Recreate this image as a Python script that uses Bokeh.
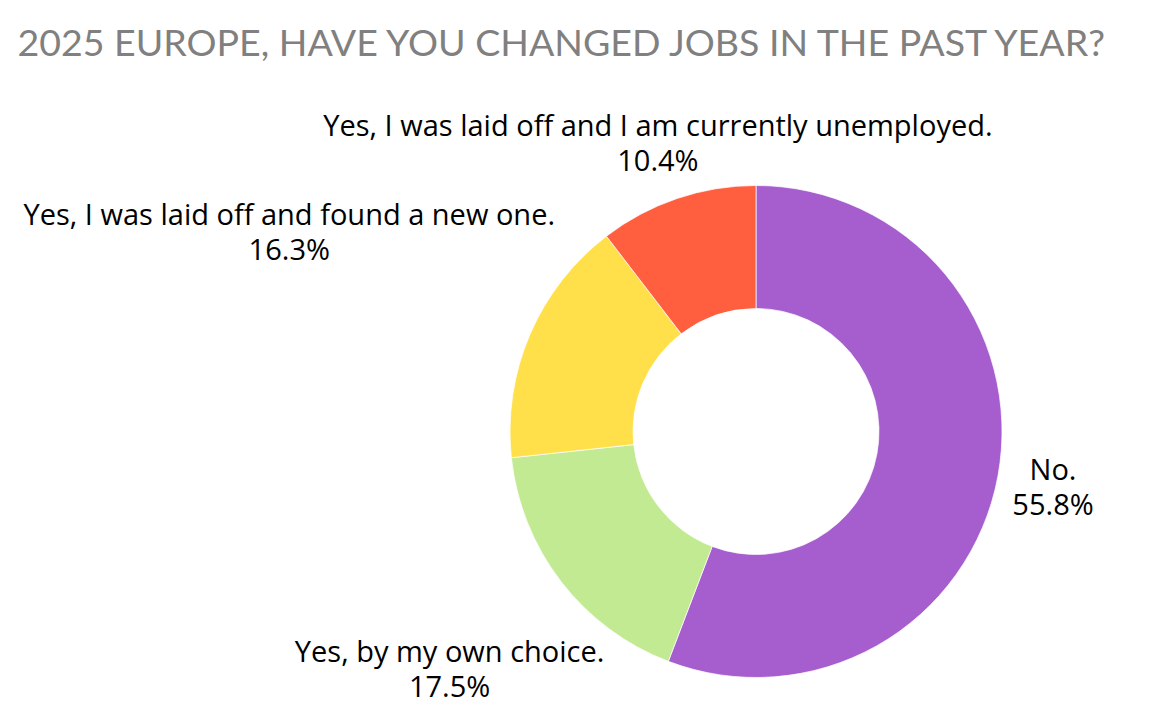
import math
from bokeh.plotting import figure
from bokeh.models import Range1d, ColumnDataSource
from bokeh.core.properties import value
from bokeh.embed import file_html
from bokeh.resources import INLINE

# ---- data ----
categories = [
    "No.",
    "Yes, by my own choice.",
    "Yes, I was laid off and found a new one.",
    "Yes, I was laid off and I am currently unemployed.",
]
shares = [55.8, 17.5, 16.3, 10.4]
colors = ["#A65ECE", "#C1EA92", "#FFE04B", "#FF5E3F"]
title_text = "2025 EUROPE, HAVE YOU CHANGED JOBS IN THE PAST YEAR?"

# ---- layout ----
W, H = 1140, 708
cx, cy = 755.5, H - 431.0
r_out, r_in = 246.0, 123.0
font_px = 29
line_gap = 35
gap = 11.0

p = figure(width=W, height=H, output_backend="svg", toolbar_location=None,
           x_range=Range1d(0, W), y_range=Range1d(0, H), min_border=0)
p.axis.visible = False
p.grid.visible = False
p.outline_line_color = None
p.background_fill_color = "white"
p.border_fill_color = "white"

total = sum(shares)
starts, ends, mids = [], [], []
cum = 0.0
for s in shares:
    a0 = math.pi / 2 - 2 * math.pi * cum / total
    cum += s
    a1 = math.pi / 2 - 2 * math.pi * cum / total
    starts.append(a0)
    ends.append(a1)
    mids.append((a0 + a1) / 2)

src = ColumnDataSource(dict(start=starts, end=ends, color=colors))
p.annular_wedge(x=cx, y=cy, inner_radius=r_in, outer_radius=r_out,
                start_angle="start", end_angle="end", direction="clock",
                fill_color="color", line_color="white", line_width=0.7,
                source=src)

# label placement: box centre on the mid-angle ray, box nearest point at r_out+gap
lx, ly1, ly2, t1, t2 = [], [], [], [], []
for cat, s, m in zip(categories, shares, mids):
    pct = f"{s:.1f}%"
    w = max(len(cat) * 13.6, len(pct) * 16.4) / 2
    h = line_gap / 2 + 15
    c, sn = math.cos(m), math.sin(m)
    lo, hi = 0.0, 2000.0
    for _ in range(60):
        d = (lo + hi) / 2
        dx = max(abs(d * c) - w, 0)
        dy = max(abs(d * sn) - h, 0)
        if math.hypot(dx, dy) < r_out + gap:
            lo = d
        else:
            hi = d
    bx, by = cx + d * c, cy + d * sn
    lx.append(bx)
    ly1.append(by + line_gap / 2)
    ly2.append(by - line_gap / 2)
    t1.append(cat)
    t2.append(pct)

p.text(x=lx, y=ly1, text=t1, text_align="center", text_baseline="middle",
       text_font=value("Open Sans"), text_font_size=f"{font_px}px", text_color="black")
p.text(x=lx, y=ly2, text=t2, text_align="center", text_baseline="middle",
       text_font=value("Open Sans"), text_font_size=f"{font_px}px", text_color="black")

p.text(x=[17], y=[H - 41], text=[title_text], text_align="left",
       text_baseline="alphabetic", text_font=value("Lato"),
       text_font_size="37.5px", text_color="#808080")

open("out.html", "w").write(file_html(p, INLINE))
